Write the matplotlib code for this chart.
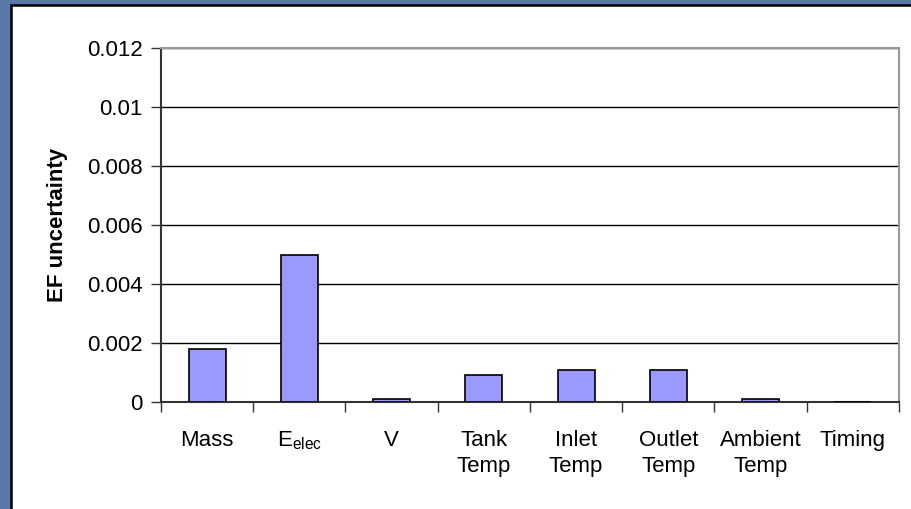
import matplotlib
matplotlib.use("Agg")
import matplotlib.pyplot as plt
from matplotlib.patches import Rectangle

categories = ["Mass", r"E$_{\mathregular{elec}}$", "V", "Tank\nTemp", "Inlet\nTemp",
              "Outlet\nTemp", "Ambient\nTemp", "Timing"]
values = [0.0018, 0.0050, 0.0001, 0.0009, 0.0011, 0.0011, 0.0001, 0.0]
yticks = [0, 0.002, 0.004, 0.006, 0.008, 0.01, 0.012]
ytick_labels = ["0", "0.002", "0.004", "0.006", "0.008", "0.01", "0.012"]

plt.rcParams['font.family'] = ['Liberation Sans', 'DejaVu Sans']
plt.rcParams['mathtext.fontset'] = 'custom'
plt.rcParams['mathtext.rm'] = 'Liberation Sans'

W, H = 912, 509
fig = plt.figure(figsize=(W/100, H/100), dpi=100, facecolor='#5a7aa6')
# white slide panel
fig.patches.append(Rectangle((11/W, -0.05), 1.05, 1 - 5/H + 0.05, transform=fig.transFigure,
                             facecolor='white', edgecolor='black', linewidth=1.8, zorder=-10))

L, R, T, B = 161, 899, 48, 402
ax = fig.add_axes([L/W, 1 - B/H, (R-L)/W, (B-T)/H])
ax.set_zorder(5)
ax.set_facecolor('white')

x = list(range(len(categories)))
ax.bar(x, values, width=0.4, color='#9999FF', edgecolor='black', linewidth=1.2, zorder=3)

ax.set_xlim(-0.5, len(categories) - 0.5)
ax.set_ylim(0, 0.012)
ax.set_yticks(yticks)
ax.set_yticklabels(ytick_labels, fontsize=16)
ax.yaxis.grid(True, color='black', linewidth=1.0, zorder=0)
ax.set_axisbelow(True)

ax.set_xticks([i - 0.5 for i in range(len(categories) + 1)])
ax.set_xticklabels([])
ax.set_xticks(x, minor=True)
ax.set_xticklabels(categories, minor=True, fontsize=16, linespacing=1.3, va='top')
ax.tick_params(axis='x', which='major', direction='out', length=7, width=1, color='#333333')
ax.tick_params(axis='x', which='minor', length=0, pad=20)
ax.tick_params(axis='y', direction='out', length=7, width=1, color='#333333', pad=6)

for s in ['top', 'right']:
    ax.spines[s].set_color('#999999')
    ax.spines[s].set_linewidth(1.5)
ax.spines['left'].set_color('#333333')
ax.spines['bottom'].set_color('#333333')
ax.spines['left'].set_linewidth(1.5)
ax.spines['bottom'].set_linewidth(1.5)

ax.set_ylabel("EF uncertainty", fontsize=16, fontweight='bold', labelpad=14)

fig.savefig("out.png", dpi=100, facecolor=fig.get_facecolor())
